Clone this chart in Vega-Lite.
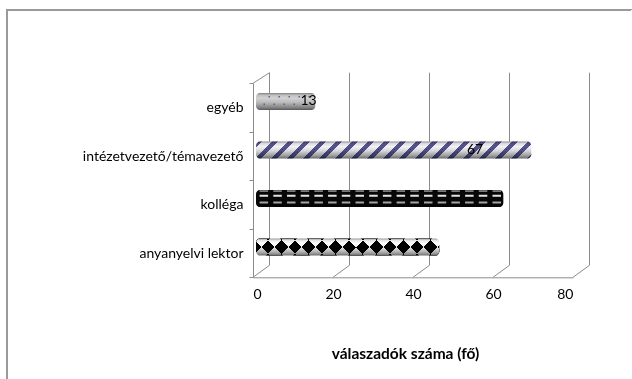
{
  "$schema": "https://vega.github.io/schema/vega-lite/v6.json",
  "width": 625,
  "height": 369,
  "autosize": {"type": "none"},
  "padding": {"left": 7, "top": 10, "right": 0, "bottom": 0},
  "background": "white",
  "config": {
    "view": {
      "stroke": {
        "gradient": "linear", "x1": 0, "y1": 0, "x2": 1, "y2": 1,
        "stops": [
          {"offset": 0, "color": "#9a9a9a"},
          {"offset": 0.5, "color": "#9a9a9a"},
          {"offset": 0.5, "color": "rgba(255,255,255,0)"},
          {"offset": 1, "color": "rgba(255,255,255,0)"}
        ]
      },
      "strokeWidth": 2
    },
    "font": "Lato",
    "axisX": {
      "domainColor": "#8c8c8c", "domainWidth": 1, "ticks": false, "grid": false,
      "labelFont": "Lato", "labelFontSize": 14, "labelColor": "#000000", "labelPadding": 10,
      "titleFont": "Lato", "titleFontSize": 15.5, "titleFontWeight": "bold", "titleColor": "#000000"
    }
  },
  "datasets": {
    "grid": [{"value": 0}, {"value": 20}, {"value": 40}, {"value": 60}, {"value": 80}],
    "bars": [
      {"category": "egyéb", "value": 13},
      {"category": "intézetvezető/témavezető", "value": 67},
      {"category": "kolléga", "value": 60},
      {"category": "anyanyelvi lektor", "value": 44}
    ]
  },
  "resolve": {"scale": {"y": "independent"}},
  "layer": [
    {
      "data": {"name": "grid"},
      "encoding": {
        "x": {
          "field": "value", "type": "quantitative",
          "scale": {"domain": [0, 80], "range": [246, 566], "nice": false, "zero": false},
          "axis": {"values": [0, 20, 40, 60, 80], "title": "válaszadók száma (fő)", "offset": -101.7, "titleX": 398, "titleY": 76, "titleBaseline": "middle", "titleAlign": "center"}
        },
        "y": {"datum": 0, "type": "quantitative", "scale": {"domain": [0, 1], "range": [267.3, 73.3]}, "axis": null}
      },
      "layer": [
        {
          "mark": {"type": "rule", "color": "#8c8c8c", "strokeWidth": 1, "xOffset": 16.5, "yOffset": -12, "y2Offset": -10.6},
          "encoding": {"y2": {"datum": 1}}
        },
        {
          "mark": {"type": "rule", "color": "#8c8c8c", "strokeWidth": 1, "x2Offset": 16.5, "y2Offset": -12},
          "encoding": {"x2": {"field": "value"}, "y2": {"datum": 0}}
        },
        {
          "transform": [{"filter": "datum.value === 0"}],
          "mark": {"type": "rule", "color": "#8c8c8c", "strokeWidth": 1, "x2Offset": 16.5, "y2Offset": -10.6},
          "encoding": {"x2": {"field": "value"}, "y": {"datum": 1, "type": "quantitative"}, "y2": {"datum": 1}}
        }
      ]
    },
    {
      "data": {"name": "bars"},
      "encoding": {
        "y": {
          "field": "category", "type": "nominal",
          "sort": ["egyéb", "intézetvezető/témavezető", "kolléga", "anyanyelvi lektor"],
          "scale": {"type": "band", "range": [73.3, 267.3], "paddingInner": 0, "paddingOuter": 0},
          "axis": {
            "orient": "left", "offset": -246, "title": null, "tickBand": "extent", "tickSize": 4,
            "tickColor": "#8c8c8c", "domainColor": "#8c8c8c", "labelFont": "Lato", "labelFontSize": 14,
            "labelColor": "#000000", "labelPadding": 6, "labelLimit": 300
          }
        }
      },
      "layer": [
        {
          "transform": [{"filter": "datum.category === 'egyéb'"}],
          "mark": {"type": "bar", "height": 17, "yOffset": -6, "y2Offset": -6, "xOffset": 10.3, "x2Offset": 3, "cornerRadius": 4, "color": "#d2d2d2"},
          "encoding": {"x": {"field": "value", "type": "quantitative", "stack": null, "title": "válaszadók száma (fő)"}, "x2": {"datum": 0}}
        },
        {
          "transform": [{"filter": "datum.category === 'intézetvezető/témavezető'"}],
          "mark": {
            "type": "bar", "height": 17, "yOffset": -6, "y2Offset": -6, "xOffset": 10.3, "x2Offset": 3, "cornerRadius": 4,
            "color": {
              "gradient": "linear", "x1": 0, "y1": 0, "x2": 1.1, "y2": 0.06793,
              "stops": [
                {"offset": 0, "color": "#55558f"}, {"offset": 0.02105, "color": "#55558f"}, {"offset": 0.02105, "color": "#f2f2f6"}, {"offset": 0.05263, "color": "#f2f2f6"},
                {"offset": 0.05263, "color": "#55558f"}, {"offset": 0.07368, "color": "#55558f"}, {"offset": 0.07368, "color": "#f2f2f6"}, {"offset": 0.10526, "color": "#f2f2f6"},
                {"offset": 0.10526, "color": "#55558f"}, {"offset": 0.12632, "color": "#55558f"}, {"offset": 0.12632, "color": "#f2f2f6"}, {"offset": 0.15789, "color": "#f2f2f6"},
                {"offset": 0.15789, "color": "#55558f"}, {"offset": 0.17895, "color": "#55558f"}, {"offset": 0.17895, "color": "#f2f2f6"}, {"offset": 0.21053, "color": "#f2f2f6"},
                {"offset": 0.21053, "color": "#55558f"}, {"offset": 0.23158, "color": "#55558f"}, {"offset": 0.23158, "color": "#f2f2f6"}, {"offset": 0.26316, "color": "#f2f2f6"},
                {"offset": 0.26316, "color": "#55558f"}, {"offset": 0.28421, "color": "#55558f"}, {"offset": 0.28421, "color": "#f2f2f6"}, {"offset": 0.31579, "color": "#f2f2f6"},
                {"offset": 0.31579, "color": "#55558f"}, {"offset": 0.33684, "color": "#55558f"}, {"offset": 0.33684, "color": "#f2f2f6"}, {"offset": 0.36842, "color": "#f2f2f6"},
                {"offset": 0.36842, "color": "#55558f"}, {"offset": 0.38947, "color": "#55558f"}, {"offset": 0.38947, "color": "#f2f2f6"}, {"offset": 0.42105, "color": "#f2f2f6"},
                {"offset": 0.42105, "color": "#55558f"}, {"offset": 0.44211, "color": "#55558f"}, {"offset": 0.44211, "color": "#f2f2f6"}, {"offset": 0.47368, "color": "#f2f2f6"},
                {"offset": 0.47368, "color": "#55558f"}, {"offset": 0.49474, "color": "#55558f"}, {"offset": 0.49474, "color": "#f2f2f6"}, {"offset": 0.52632, "color": "#f2f2f6"},
                {"offset": 0.52632, "color": "#55558f"}, {"offset": 0.54737, "color": "#55558f"}, {"offset": 0.54737, "color": "#f2f2f6"}, {"offset": 0.57895, "color": "#f2f2f6"},
                {"offset": 0.57895, "color": "#55558f"}, {"offset": 0.6, "color": "#55558f"}, {"offset": 0.6, "color": "#f2f2f6"}, {"offset": 0.63158, "color": "#f2f2f6"},
                {"offset": 0.63158, "color": "#55558f"}, {"offset": 0.65263, "color": "#55558f"}, {"offset": 0.65263, "color": "#f2f2f6"}, {"offset": 0.68421, "color": "#f2f2f6"},
                {"offset": 0.68421, "color": "#55558f"}, {"offset": 0.70526, "color": "#55558f"}, {"offset": 0.70526, "color": "#f2f2f6"}, {"offset": 0.73684, "color": "#f2f2f6"},
                {"offset": 0.73684, "color": "#55558f"}, {"offset": 0.75789, "color": "#55558f"}, {"offset": 0.75789, "color": "#f2f2f6"}, {"offset": 0.78947, "color": "#f2f2f6"},
                {"offset": 0.78947, "color": "#55558f"}, {"offset": 0.81053, "color": "#55558f"}, {"offset": 0.81053, "color": "#f2f2f6"}, {"offset": 0.84211, "color": "#f2f2f6"},
                {"offset": 0.84211, "color": "#55558f"}, {"offset": 0.86316, "color": "#55558f"}, {"offset": 0.86316, "color": "#f2f2f6"}, {"offset": 0.89474, "color": "#f2f2f6"},
                {"offset": 0.89474, "color": "#55558f"}, {"offset": 0.91579, "color": "#55558f"}, {"offset": 0.91579, "color": "#f2f2f6"}, {"offset": 0.94737, "color": "#f2f2f6"},
                {"offset": 0.94737, "color": "#55558f"}, {"offset": 0.96842, "color": "#55558f"}, {"offset": 0.96842, "color": "#f2f2f6"}, {"offset": 1, "color": "#f2f2f6"}
              ]
            }
          },
          "encoding": {"x": {"field": "value", "type": "quantitative", "stack": null, "title": "válaszadók száma (fő)"}, "x2": {"datum": 0}}
        },
        {
          "transform": [{"filter": "datum.category === 'kolléga'"}],
          "mark": {"type": "bar", "height": 17, "yOffset": -6, "y2Offset": -6, "xOffset": 10.3, "x2Offset": 3, "cornerRadius": 4, "color": "#080808"},
          "encoding": {"x": {"field": "value", "type": "quantitative", "stack": null, "title": "válaszadók száma (fő)"}, "x2": {"datum": 0}}
        },
        {
          "transform": [{"filter": "datum.category === 'anyanyelvi lektor'"}],
          "mark": {
            "type": "bar", "height": 17, "yOffset": -6, "y2Offset": -6, "xOffset": 10.3, "x2Offset": 3, "cornerRadius": 4,
            "color": {
              "gradient": "linear", "x1": 0, "y1": 0, "x2": 1.1, "y2": 0.10202,
              "stops": [
                {"offset": 0, "color": "#000000"}, {"offset": 0.06667, "color": "#000000"}, {"offset": 0.06667, "color": "#ffffff"}, {"offset": 0.13333, "color": "#ffffff"},
                {"offset": 0.13333, "color": "#000000"}, {"offset": 0.2, "color": "#000000"}, {"offset": 0.2, "color": "#ffffff"}, {"offset": 0.26667, "color": "#ffffff"},
                {"offset": 0.26667, "color": "#000000"}, {"offset": 0.33333, "color": "#000000"}, {"offset": 0.33333, "color": "#ffffff"}, {"offset": 0.4, "color": "#ffffff"},
                {"offset": 0.4, "color": "#000000"}, {"offset": 0.46667, "color": "#000000"}, {"offset": 0.46667, "color": "#ffffff"}, {"offset": 0.53333, "color": "#ffffff"},
                {"offset": 0.53333, "color": "#000000"}, {"offset": 0.6, "color": "#000000"}, {"offset": 0.6, "color": "#ffffff"}, {"offset": 0.66667, "color": "#ffffff"},
                {"offset": 0.66667, "color": "#000000"}, {"offset": 0.73333, "color": "#000000"}, {"offset": 0.73333, "color": "#ffffff"}, {"offset": 0.8, "color": "#ffffff"},
                {"offset": 0.8, "color": "#000000"}, {"offset": 0.86667, "color": "#000000"}, {"offset": 0.86667, "color": "#ffffff"}, {"offset": 0.93333, "color": "#ffffff"},
                {"offset": 0.93333, "color": "#000000"}, {"offset": 1, "color": "#000000"}
              ]
            }
          },
          "encoding": {"x": {"field": "value", "type": "quantitative", "stack": null, "title": "válaszadók száma (fő)"}, "x2": {"datum": 0}}
        },
        {
          "transform": [{"filter": "datum.category === 'anyanyelvi lektor'"}],
          "mark": {
            "type": "bar", "height": 17, "yOffset": -6, "y2Offset": -6, "xOffset": 10.3, "x2Offset": 3, "cornerRadius": 4, "blend": "difference",
            "color": {
              "gradient": "linear", "x1": 0, "y1": 1, "x2": 1.1, "y2": 0.89798,
              "stops": [
                {"offset": 0, "color": "#000000"}, {"offset": 0.06667, "color": "#000000"}, {"offset": 0.06667, "color": "#ffffff"}, {"offset": 0.13333, "color": "#ffffff"},
                {"offset": 0.13333, "color": "#000000"}, {"offset": 0.2, "color": "#000000"}, {"offset": 0.2, "color": "#ffffff"}, {"offset": 0.26667, "color": "#ffffff"},
                {"offset": 0.26667, "color": "#000000"}, {"offset": 0.33333, "color": "#000000"}, {"offset": 0.33333, "color": "#ffffff"}, {"offset": 0.4, "color": "#ffffff"},
                {"offset": 0.4, "color": "#000000"}, {"offset": 0.46667, "color": "#000000"}, {"offset": 0.46667, "color": "#ffffff"}, {"offset": 0.53333, "color": "#ffffff"},
                {"offset": 0.53333, "color": "#000000"}, {"offset": 0.6, "color": "#000000"}, {"offset": 0.6, "color": "#ffffff"}, {"offset": 0.66667, "color": "#ffffff"},
                {"offset": 0.66667, "color": "#000000"}, {"offset": 0.73333, "color": "#000000"}, {"offset": 0.73333, "color": "#ffffff"}, {"offset": 0.8, "color": "#ffffff"},
                {"offset": 0.8, "color": "#000000"}, {"offset": 0.86667, "color": "#000000"}, {"offset": 0.86667, "color": "#ffffff"}, {"offset": 0.93333, "color": "#ffffff"},
                {"offset": 0.93333, "color": "#000000"}, {"offset": 1, "color": "#000000"}
              ]
            }
          },
          "encoding": {"x": {"field": "value", "type": "quantitative", "stack": null, "title": "válaszadók száma (fő)"}, "x2": {"datum": 0}}
        },
        {
          "mark": {
            "type": "bar", "height": 17, "yOffset": -6, "y2Offset": -6, "xOffset": 10.3, "x2Offset": 3, "cornerRadius": 4, "blend": "multiply",
            "color": {
              "gradient": "linear", "x1": 0, "y1": 0, "x2": 0, "y2": 1,
              "stops": [
                {"offset": 0, "color": "#9a9a9a"},
                {"offset": 0.12, "color": "#e8e8e8"},
                {"offset": 0.3, "color": "#ffffff"},
                {"offset": 0.55, "color": "#e2e2e2"},
                {"offset": 0.85, "color": "#a0a0a0"},
                {"offset": 1, "color": "#6a6a6a"}
              ]
            }
          },
          "encoding": {"x": {"field": "value", "type": "quantitative", "stack": null, "title": "válaszadók száma (fő)"}, "x2": {"datum": 0}}
        },
        {
          "transform": [{"filter": "datum.category === 'egyéb'"}],
          "mark": {"type": "rule", "color": "#5c5ca8", "strokeWidth": 1.5, "strokeDash": [1.5, 8.5], "yOffset": -10.8, "xOffset": 5, "x2Offset": 7},
          "encoding": {"x": {"field": "value", "type": "quantitative", "title": "válaszadók száma (fő)"}, "x2": {"datum": 0}}
        },
        {
          "transform": [{"filter": "datum.category === 'egyéb'"}],
          "mark": {"type": "rule", "color": "#5c5ca8", "strokeWidth": 1.5, "strokeDash": [1.5, 8.5], "strokeDashOffset": 5, "yOffset": -3.2, "xOffset": 5, "x2Offset": 7},
          "encoding": {"x": {"field": "value", "type": "quantitative", "title": "válaszadók száma (fő)"}, "x2": {"datum": 0}}
        },
        {
          "transform": [{"filter": "datum.category === 'kolléga'"}],
          "mark": {"type": "rule", "color": "#d8d8d8", "strokeWidth": 1, "strokeDash": [8.5, 5.2], "yOffset": -13.5, "xOffset": 8, "x2Offset": 5},
          "encoding": {"x": {"field": "value", "type": "quantitative", "title": "válaszadók száma (fő)"}, "x2": {"datum": 0}}
        },
        {
          "transform": [{"filter": "datum.category === 'kolléga'"}],
          "mark": {"type": "rule", "color": "#e4e4e4", "strokeWidth": 2, "strokeDash": [8.5, 5.2], "yOffset": -8.7, "xOffset": 8, "x2Offset": 5},
          "encoding": {"x": {"field": "value", "type": "quantitative", "title": "válaszadók száma (fő)"}, "x2": {"datum": 0}}
        },
        {
          "transform": [{"filter": "datum.category === 'kolléga'"}],
          "mark": {"type": "rule", "color": "#a4a4a4", "strokeWidth": 2, "strokeDash": [8.5, 5.2], "yOffset": -2, "xOffset": 8, "x2Offset": 5},
          "encoding": {"x": {"field": "value", "type": "quantitative", "title": "válaszadók száma (fő)"}, "x2": {"datum": 0}}
        },
        {
          "transform": [{"filter": "datum.category === 'egyéb'"}],
          "mark": {"type": "text", "font": "Lato", "fontSize": 14, "color": "#000000", "align": "center", "baseline": "middle", "dx": 3.5, "dy": -6.5},
          "encoding": {"x": {"field": "value", "type": "quantitative", "title": "válaszadók száma (fő)"}, "text": {"field": "value"}}
        },
        {
          "transform": [{"filter": "datum.category === 'intézetvezető/témavezető'"}],
          "mark": {"type": "text", "font": "Lato", "fontSize": 14, "color": "#000000", "align": "center", "baseline": "middle", "dx": -46, "dy": -6},
          "encoding": {"x": {"field": "value", "type": "quantitative", "title": "válaszadók száma (fő)"}, "text": {"field": "value"}}
        }
      ]
    }
  ]
}
